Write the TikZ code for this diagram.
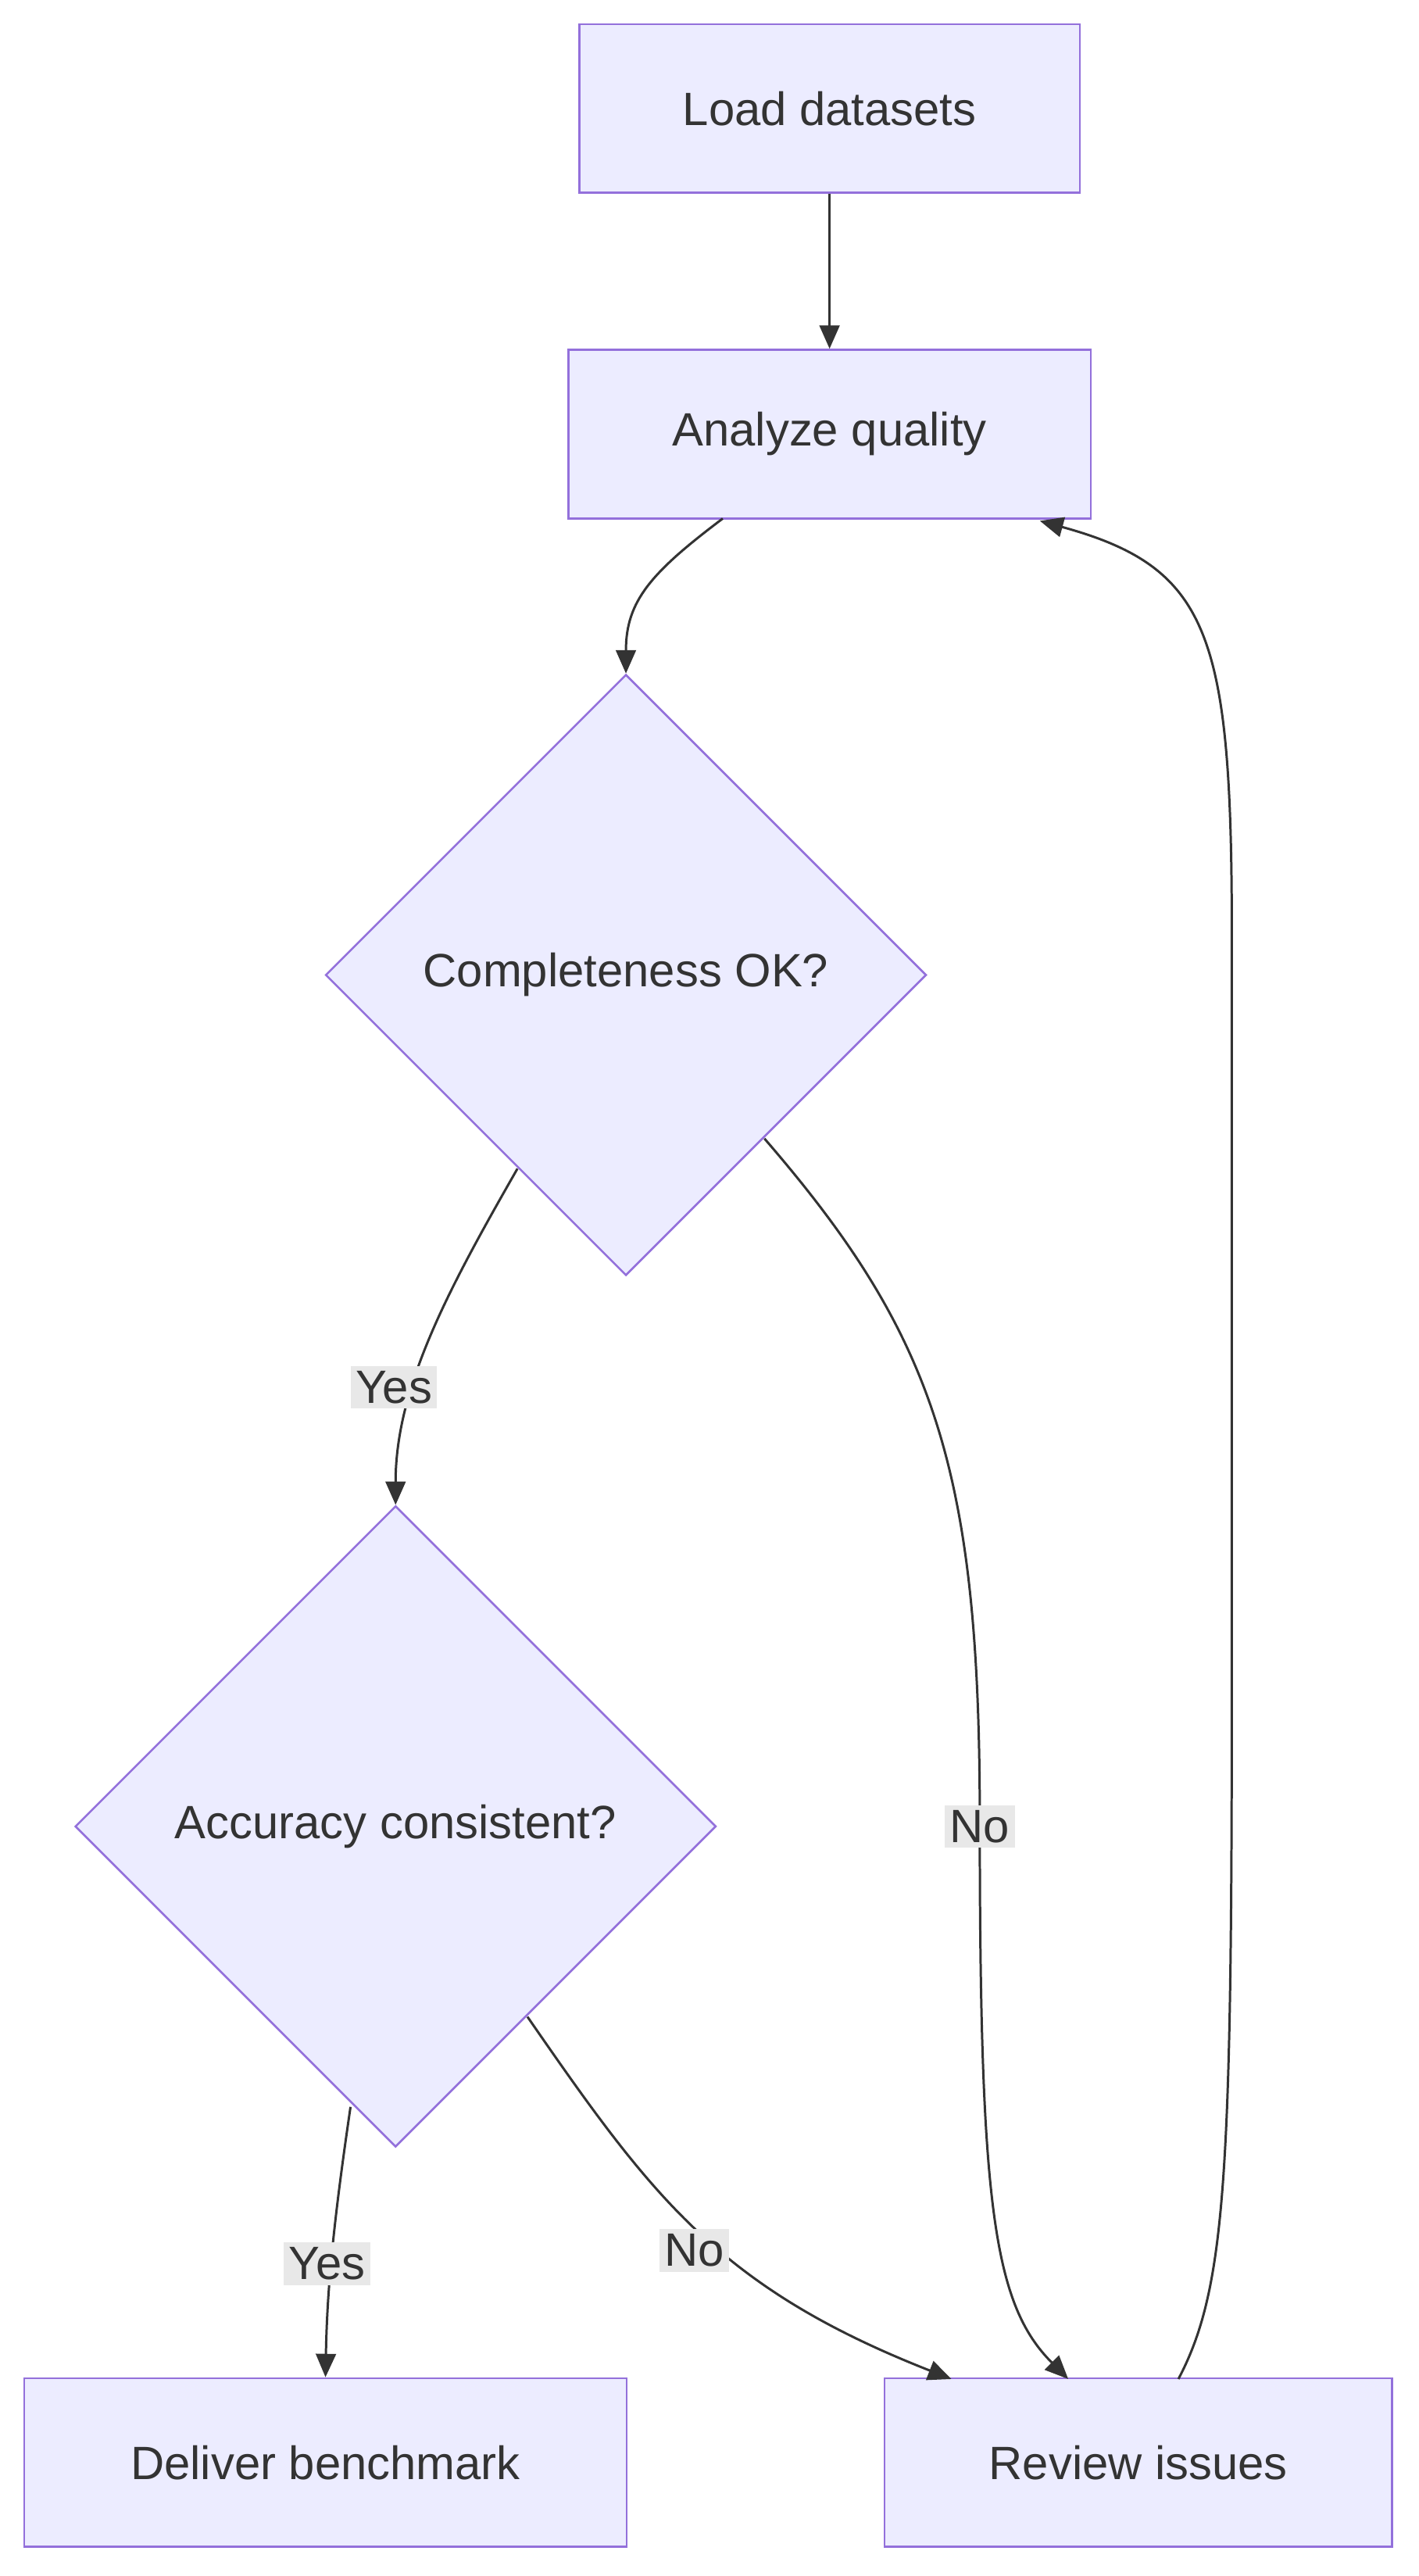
\documentclass[tikz,border=0pt]{standalone}
\usepackage{fontspec}
\setmainfont{Liberation Sans}
\usetikzlibrary{positioning,shapes.geometric,arrows.meta}
\definecolor{boxfill}{HTML}{ECECFF}
\definecolor{boxline}{HTML}{9370DB}
\definecolor{ink}{HTML}{333333}
\definecolor{lblfill}{HTML}{E8E8E8}
\tikzset{
  stage/.style={rectangle,draw=boxline,fill=boxfill,line width=1.2pt,minimum height=101pt,text=ink,font=\fontsize{28}{32}\selectfont},
  test/.style={diamond,draw=boxline,fill=boxfill,line width=1.2pt,inner sep=0pt,text=ink,font=\fontsize{28}{32}\selectfont},
  link/.style={draw=ink,line width=1.4pt,-{Triangle[length=14pt,width=12pt]}},
  lbl/.style={fill=lblfill,text=ink,inner sep=3pt,font=\fontsize{28}{32}\selectfont}
}
\begin{document}
\begin{tikzpicture}[x=1pt,y=-1pt]
  \useasboundingbox (0,0) rectangle (850,1543);
  \node[stage,minimum width=300pt] (load) at (497,65) {Load datasets};
  \node[stage,minimum width=313pt] (analyze) at (497,260) {Analyze quality};
  \node[test,minimum width=360pt,minimum height=360pt] (complete) at (375,584) {Completeness OK?};
  \node[test,minimum width=384pt,minimum height=384pt] (accuracy) at (237,1094) {Accuracy consistent?};
  \node[stage,minimum width=361pt] (deliver) at (195,1475) {Deliver benchmark};
  \node[stage,minimum width=304pt] (review) at (682,1475) {Review issues};
  % edges
  \draw[link] (load) -- (analyze);
  \draw[link] (433,310.6) .. controls (390,343) and (375,360) .. (complete.north);
  \draw[link] (310,700) .. controls (270,770) and (237,830) .. (accuracy.north);
  \draw[link] (458,682) .. controls (560,800) and (587,880) .. (587,1090)
      .. controls (587,1320) and (595,1380) .. (640,1425);
  \draw[link] (316,1208) .. controls (390,1315) and (430,1370) .. (570,1425);
  \draw[link] (210,1262) .. controls (200,1330) and (196,1370) .. (deliver.north);
  \draw[link] (706,1425) .. controls (735,1370) and (738,1300) .. (738,1000)
      -- (738,560) .. controls (738,380) and (725,340) .. (623,312);
  % labels
  \node[lbl] (yes1) at (236,831) {Yes};
  \node[lbl] (no1) at (587,1094) {No};
  \node[lbl] (no2) at (416,1348) {No};
  \node[lbl] (yes2) at (196,1356) {Yes};
\end{tikzpicture}
\end{document}
